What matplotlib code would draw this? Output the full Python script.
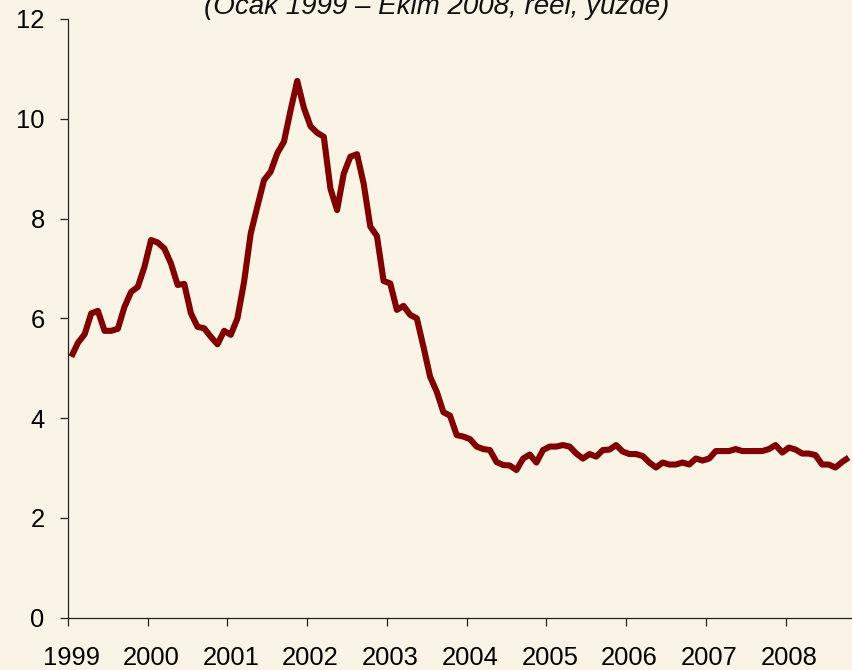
import matplotlib
matplotlib.use("Agg")
import matplotlib.pyplot as plt
from matplotlib.ticker import FixedLocator, NullFormatter, FixedFormatter

plt.rcParams['font.family'] = ['Liberation Sans', 'DejaVu Sans']

# Monthly real rate (%), Jan 1999 - Oct 2008
values = [
    # 1999
    5.23, 5.51, 5.68, 6.10, 6.15, 5.75, 5.75, 5.79, 6.23, 6.53, 6.63, 7.03,
    # 2000
    7.57, 7.52, 7.40, 7.10, 6.67, 6.69, 6.10, 5.83, 5.80, 5.63, 5.48, 5.75,
    # 2001
    5.67, 6.00, 6.73, 7.70, 8.24, 8.77, 8.94, 9.31, 9.54, 10.17, 10.76, 10.22,
    # 2002
    9.85, 9.72, 9.64, 8.60, 8.17, 8.90, 9.24, 9.29, 8.70, 7.84, 7.65, 6.75,
    # 2003
    6.70, 6.17, 6.25, 6.07, 6.00, 5.43, 4.83, 4.53, 4.12, 4.05, 3.66, 3.63,
    # 2004
    3.58, 3.43, 3.38, 3.36, 3.12, 3.06, 3.05, 2.96, 3.19, 3.27, 3.11, 3.36,
    # 2005
    3.43, 3.43, 3.46, 3.43, 3.29, 3.19, 3.28, 3.23, 3.36, 3.37, 3.46, 3.33,
    # 2006
    3.28, 3.28, 3.24, 3.11, 3.01, 3.11, 3.07, 3.07, 3.11, 3.07, 3.19, 3.15,
    # 2007
    3.19, 3.34, 3.34, 3.34, 3.38, 3.34, 3.34, 3.34, 3.34, 3.38, 3.46, 3.31,
    # 2008
    3.41, 3.37, 3.29, 3.29, 3.26, 3.07, 3.07, 3.01, 3.12, 3.21,
]
year_labels = ['1999', '2000', '2001', '2002', '2003', '2004', '2005', '2006', '2007', '2008']
y_ticks = [0, 2, 4, 6, 8, 10, 12]
title = '(Ocak 1999 \u2013 Ekim 2008, reel, y\u00fczde)'

bg = '#FAF4E6'
fig = plt.figure(figsize=(8.52, 6.70), dpi=100, facecolor=bg)
ax = fig.add_axes([68/852, 52.3/670, 1 - 68/852, (617.7 - 19)/670])
ax.set_facecolor(bg)

x = list(range(len(values)))
ax.plot(x, values, color='#800000', lw=4.4, solid_joinstyle='round',
        solid_capstyle='butt', clip_on=False)

ax.set_xlim(-0.5, len(values) - 0.5)
ax.set_ylim(0, 12)

for s in ['top', 'right']:
    ax.spines[s].set_visible(False)
for s in ['left', 'bottom']:
    ax.spines[s].set_color('#222222')
    ax.spines[s].set_linewidth(0.9)

# Major ticks at year boundaries (no labels), minor labels at January points
ax.xaxis.set_major_locator(FixedLocator([12 * k - 0.5 for k in range(len(year_labels))]))
ax.xaxis.set_major_formatter(NullFormatter())
ax.xaxis.set_minor_locator(FixedLocator([12 * k for k in range(len(year_labels))]))
ax.xaxis.set_minor_formatter(FixedFormatter(year_labels))
ax.tick_params(axis='x', which='major', direction='out', length=6, width=0.9, color='#222222')
ax.tick_params(axis='x', which='minor', length=0, pad=20.5, labelsize=18.4)

ax.set_yticks(y_ticks)
ax.set_yticklabels([str(v) for v in y_ticks])
ax.tick_params(axis='y', direction='out', length=6, width=0.9, color='#222222',
               pad=10.8, labelsize=18.4)

fig.text(437/852, 1 - 14/670, title, ha='center', va='baseline',
         fontsize=20, style='italic', color='#111111')

fig.savefig('out.png', dpi=100, facecolor=bg)
